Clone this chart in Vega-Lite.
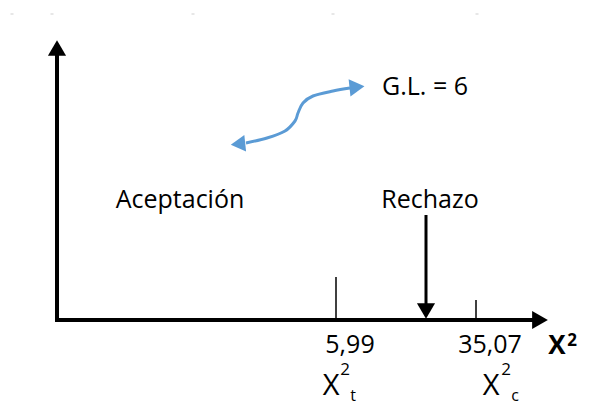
{
  "$schema": "https://vega.github.io/schema/vega-lite/v6.json",
  "width": 595,
  "height": 412,
  "autosize": {"type": "fit", "contains": "padding"},
  "padding": 0,
  "background": "white",
  "config": {"view": {"stroke": null}},
  "datasets": {
    "thick": [
      {"x": 57, "y": 322, "x2": 57, "y2": 54},
      {"x": 55, "y": 320, "x2": 535, "y2": 320}
    ],
    "shaft": [{"x": 426, "y": 215, "x2": 426, "y2": 305}],
    "ticks": [
      {"x": 336, "y": 277, "x2": 336, "y2": 320},
      {"x": 476, "y": 300, "x2": 476, "y2": 320}
    ],
    "heads": [
      {"x": 57, "y": 48, "dir": "up"},
      {"x": 540, "y": 320, "dir": "right"},
      {"x": 426, "y": 311, "dir": "down"}
    ],
    "curve": [
      {"i": 1, "x": 350, "y": 88},
      {"i": 2, "x": 333, "y": 91},
      {"i": 3, "x": 313, "y": 96},
      {"i": 4, "x": 303, "y": 103},
      {"i": 5, "x": 298, "y": 113},
      {"i": 6, "x": 295, "y": 121},
      {"i": 7, "x": 285, "y": 131},
      {"i": 8, "x": 267, "y": 138},
      {"i": 9, "x": 246, "y": 143}
    ],
    "blueRight": [{"x": 357, "y": 87}],
    "blueLeft": [{"x": 238, "y": 144}],
    "labels": [
      {"x": 180, "y": 208, "text": "Aceptación"},
      {"x": 430, "y": 208, "text": "Rechazo"},
      {"x": 425, "y": 95, "text": "G.L. = 6"},
      {"x": 350, "y": 353, "text": "5,99"},
      {"x": 490, "y": 353, "text": "35,07"}
    ],
    "bigX": [
      {"x": 331, "y": 395, "text": "X"},
      {"x": 491, "y": 395, "text": "X"}
    ],
    "sup": [
      {"x": 345, "y": 375, "text": "2"},
      {"x": 506, "y": 375, "text": "2"}
    ],
    "sub": [
      {"x": 353, "y": 401, "text": "t"},
      {"x": 515, "y": 401, "text": "c"}
    ],
    "boldX": [{"x": 557, "y": 354, "text": "X"}],
    "boldSup": [{"x": 572, "y": 346, "text": "2"}],
    "dashes": [
      {"x": 10.5, "x2": 13.5, "y": 14},
      {"x": 50.5, "x2": 53.5, "y": 14},
      {"x": 191.5, "x2": 194.5, "y": 14},
      {"x": 331.5, "x2": 334.5, "y": 14},
      {"x": 475.5, "x2": 478.5, "y": 14}
    ]
  },
  "encoding": {
    "x": {"field": "x", "type": "quantitative", "scale": {"domain": [0, 595], "nice": false, "zero": false}, "axis": null},
    "y": {"field": "y", "type": "quantitative", "scale": {"domain": [0, 412], "nice": false, "zero": false, "reverse": true}, "axis": null}
  },
  "layer": [
    {
      "data": {"name": "dashes"},
      "mark": {"type": "rule", "color": "#cfcfcf", "strokeWidth": 1},
      "encoding": {"x2": {"field": "x2"}}
    },
    {
      "data": {"name": "thick"},
      "mark": {"type": "rule", "color": "black", "strokeWidth": 4},
      "encoding": {"x2": {"field": "x2"}, "y2": {"field": "y2"}}
    },
    {
      "data": {"name": "shaft"},
      "mark": {"type": "rule", "color": "black", "strokeWidth": 3},
      "encoding": {"x2": {"field": "x2"}, "y2": {"field": "y2"}}
    },
    {
      "data": {"name": "ticks"},
      "mark": {"type": "rule", "color": "black", "strokeWidth": 1.5},
      "encoding": {"x2": {"field": "x2"}, "y2": {"field": "y2"}}
    },
    {
      "data": {"name": "heads"},
      "mark": {"type": "point", "filled": true, "color": "black", "opacity": 1, "size": 330, "strokeWidth": 0},
      "encoding": {
        "shape": {"field": "dir", "type": "nominal", "scale": {"domain": ["up", "right", "down"], "range": ["triangle-up", "triangle-right", "triangle-down"]}, "legend": null}
      }
    },
    {
      "data": {"name": "curve"},
      "mark": {"type": "line", "color": "#5B9BD5", "strokeWidth": 3, "interpolate": "cardinal"},
      "encoding": {"order": {"field": "i", "type": "quantitative"}}
    },
    {
      "data": {"name": "blueRight"},
      "mark": {"type": "point", "shape": "triangle-up", "angle": 84, "filled": true, "color": "#5B9BD5", "opacity": 1, "size": 300, "strokeWidth": 0},
      "encoding": {}
    },
    {
      "data": {"name": "blueLeft"},
      "mark": {"type": "point", "shape": "triangle-up", "angle": 264, "filled": true, "color": "#5B9BD5", "opacity": 1, "size": 280, "strokeWidth": 0},
      "encoding": {}
    },
    {
      "data": {"name": "labels"},
      "mark": {"type": "text", "font": "Open Sans", "fontSize": 25, "color": "black", "align": "center", "baseline": "alphabetic"},
      "encoding": {"text": {"field": "text"}}
    },
    {
      "data": {"name": "bigX"},
      "mark": {"type": "text", "font": "Open Sans", "fontSize": 29, "color": "black", "align": "center", "baseline": "alphabetic"},
      "encoding": {"text": {"field": "text"}}
    },
    {
      "data": {"name": "sup"},
      "mark": {"type": "text", "font": "Open Sans", "fontSize": 17, "color": "black", "align": "center", "baseline": "alphabetic"},
      "encoding": {"text": {"field": "text"}}
    },
    {
      "data": {"name": "sub"},
      "mark": {"type": "text", "font": "Open Sans", "fontSize": 16, "color": "black", "align": "center", "baseline": "alphabetic"},
      "encoding": {"text": {"field": "text"}}
    },
    {
      "data": {"name": "boldX"},
      "mark": {"type": "text", "font": "Open Sans", "fontSize": 26, "fontWeight": "bold", "color": "black", "align": "center", "baseline": "alphabetic"},
      "encoding": {"text": {"field": "text"}}
    },
    {
      "data": {"name": "boldSup"},
      "mark": {"type": "text", "font": "Open Sans", "fontSize": 17, "fontWeight": "bold", "color": "black", "align": "center", "baseline": "alphabetic"},
      "encoding": {"text": {"field": "text"}}
    }
  ]
}
